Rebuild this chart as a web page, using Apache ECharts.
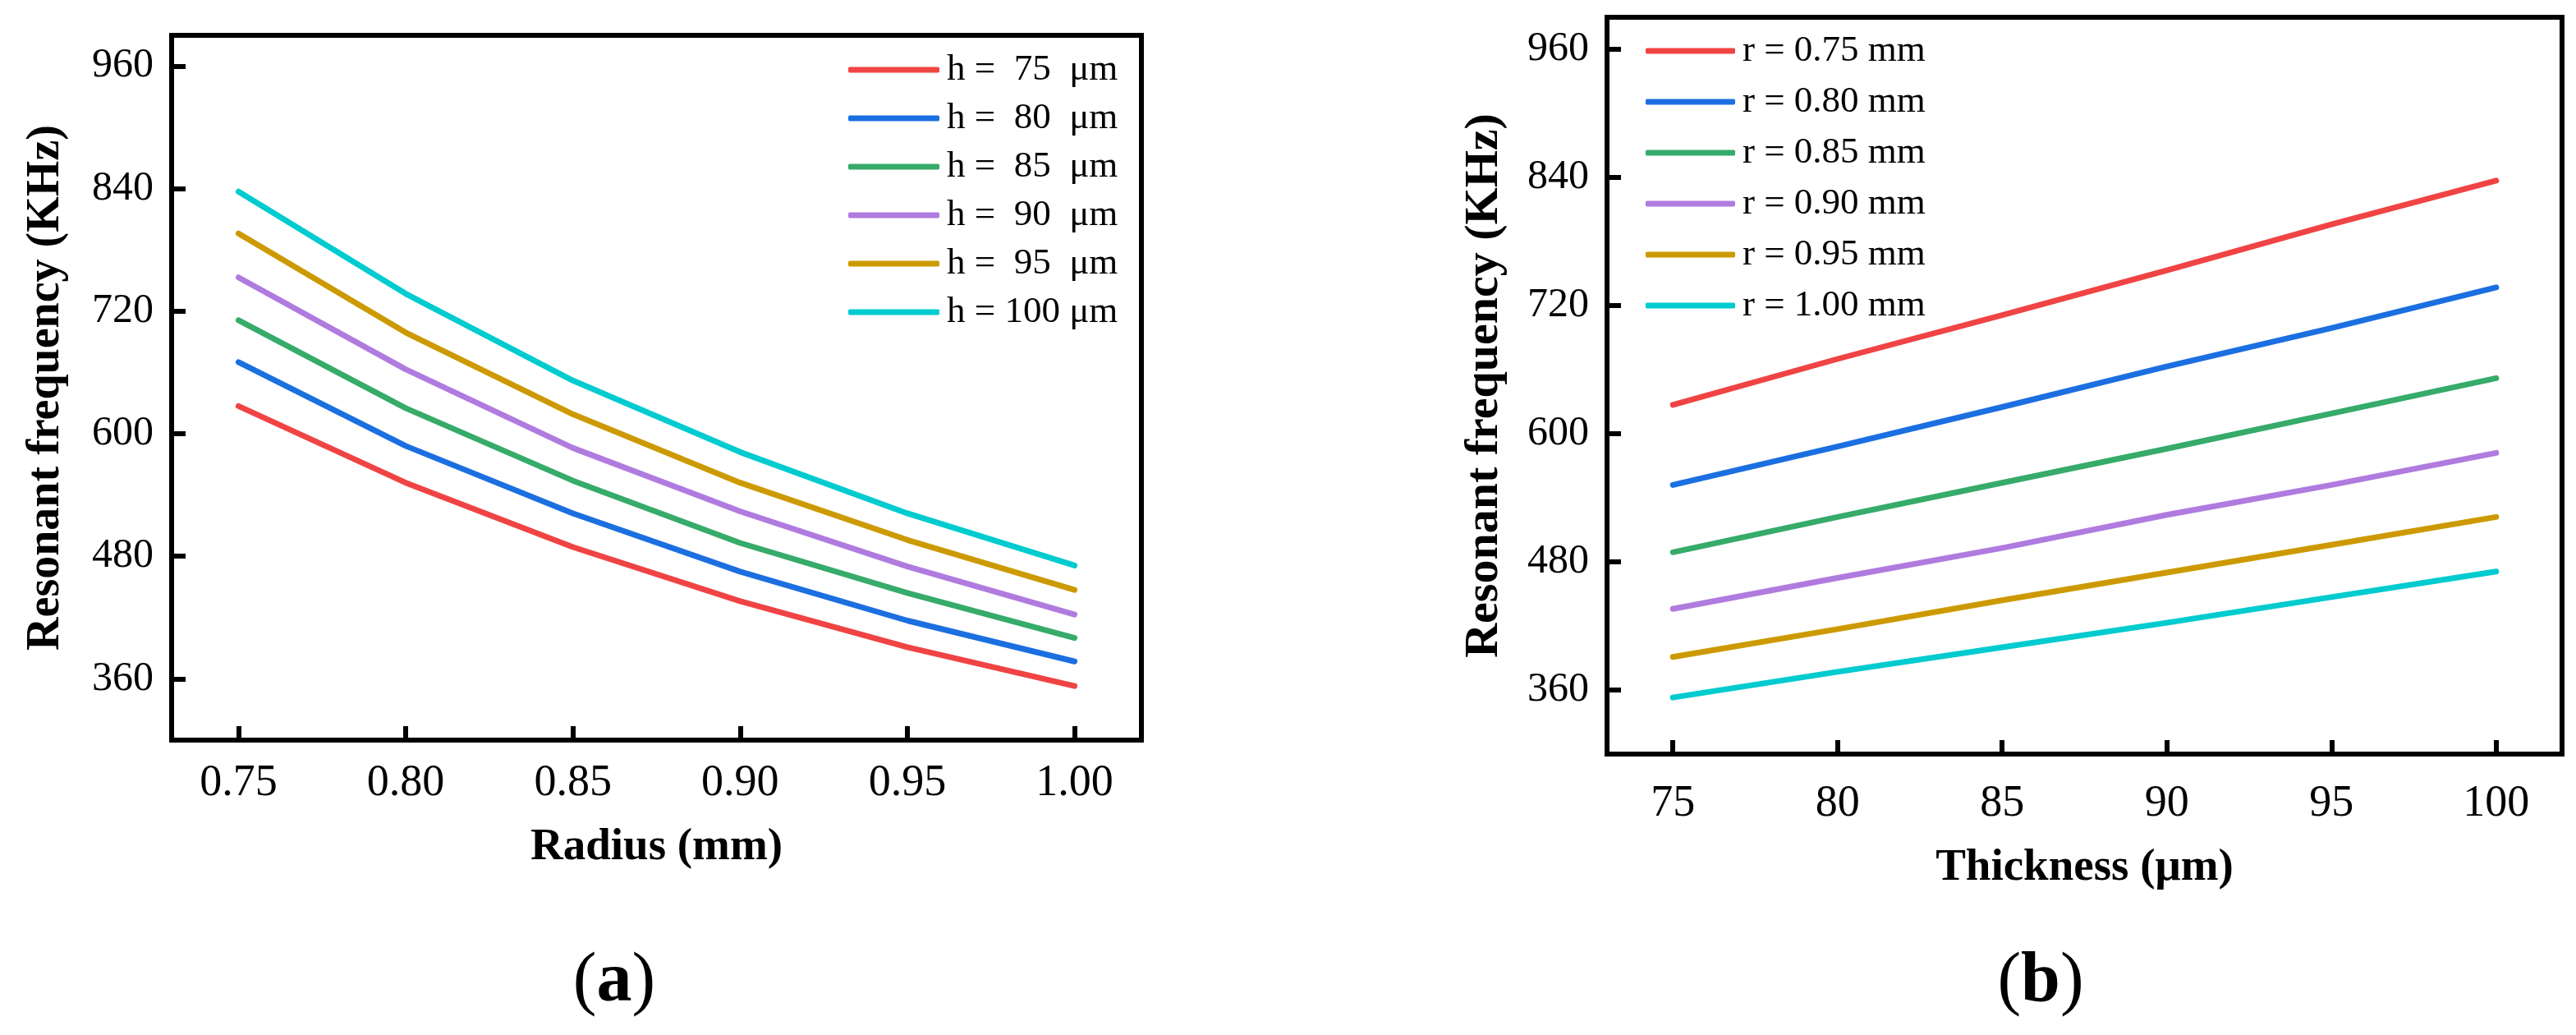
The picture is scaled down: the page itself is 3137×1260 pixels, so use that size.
<!DOCTYPE html>
<html>
<head>
<meta charset="utf-8">
<script src="https://cdn.jsdelivr.net/npm/echarts@6/dist/echarts.min.js"></script>
<style>
  html, body { margin: 0; padding: 0; background: #fff; }
  #main { width: 3137px; height: 1260px; }
</style>
</head>
<body>
<div id="main"></div>
<script>
// radius (mm) and thickness (um)
const radii = [0.75, 0.80, 0.85, 0.90, 0.95, 1.00];
const thickness = [75, 80, 85, 90, 95, 100];
const freqTicks = [360, 480, 600, 720, 840, 960];

// resonant frequency (KHz), one row per thickness, one column per radius
const h75 = [627, 552, 489, 436, 391, 353];
const h80 = [670, 588, 522, 465, 417, 377];
const h85 = [711, 625, 554, 493, 444, 400];
const h90 = [753, 663, 586, 524, 470, 423];
const h95 = [796, 699, 619, 552, 496, 447];
const h100 = [837, 737, 652, 582, 522, 471];

const leftNames = ['h =  75  μm', 'h =  80  μm', 'h =  85  μm', 'h =  90  μm', 'h =  95  μm', 'h = 100 μm'];
const rightNames = ['r = 0.75 mm', 'r = 0.80 mm', 'r = 0.85 mm', 'r = 0.90 mm', 'r = 0.95 mm', 'r = 1.00 mm'];
const colors = ['#f04444', '#1b6fe0', '#36ab6a', '#b07bdf', '#cc9a00', '#00cbcf'];

const rows = [h75, h80, h85, h90, h95, h100];
const font = 'Liberation Serif';

const chart = echarts.init(document.getElementById('main'), null, { renderer: 'canvas' });

function xAxisCommon(extra) {
    return Object.assign({
        type: 'value',
        nameLocation: 'middle',
        nameTextStyle: { fontFamily: font, fontWeight: 'bold', fontSize: 55, color: '#000' },
        axisLine: { show: true, onZero: false, lineStyle: { color: '#000', width: 6 } },
        splitLine: { show: false }
    }, extra);
}

function yAxisCommon(extra) {
    return Object.assign({
        type: 'value',
        min: 300,
        max: 990,
        nameLocation: 'middle',
        nameRotate: 90,
        axisLine: { show: true, onZero: false, lineStyle: { color: '#000', width: 6 } },
        axisTick: { show: true, inside: true, length: 17, customValues: freqTicks, lineStyle: { color: '#000', width: 6 } },
        axisLabel: { fontFamily: font, fontSize: 50, color: '#000', margin: 22, customValues: freqTicks },
        splitLine: { show: false }
    }, extra);
}

const series = [];
// (a): frequency vs radius, one line per thickness
rows.forEach((row, i) => {
    series.push({
        name: leftNames[i],
        type: 'line',
        xAxisIndex: 0,
        yAxisIndex: 0,
        symbol: 'none',
        color: colors[i],
        lineStyle: { width: 7, cap: 'round', join: 'round' },
        data: radii.map((r, j) => [r, row[j]])
    });
});
// (b): frequency vs thickness, one line per radius
radii.forEach((r, j) => {
    series.push({
        name: rightNames[j],
        type: 'line',
        xAxisIndex: 1,
        yAxisIndex: 1,
        symbol: 'none',
        color: colors[j],
        lineStyle: { width: 7, cap: 'round', join: 'round' },
        data: thickness.map((h, i) => [h, rows[i][j]])
    });
});

const panelRich = {
    p: { fontFamily: font, fontSize: 86, fontWeight: 'normal', color: '#000' },
    b: { fontFamily: font, fontSize: 86, fontWeight: 'bold', color: '#000' }
};

const option = {
    backgroundColor: '#fff',
    animation: false,
    title: [
        { text: '{p|(}{b|a}{p|)}', left: 743, top: 1148, textAlign: 'center', textStyle: { fontWeight: 'normal', rich: panelRich } },
        { text: '{p|(}{b|b}{p|)}', left: 2480, top: 1148, textAlign: 'center', textStyle: { fontWeight: 'normal', rich: panelRich } }
    ],
    grid: [
        { left: 209, right: 1747, top: 43, bottom: 359, show: true, borderColor: '#000', borderWidth: 6, containLabel: false },
        { left: 1957, right: 17, top: 21, bottom: 342, show: true, borderColor: '#000', borderWidth: 6, containLabel: false }
    ],
    legend: [
        {
            data: leftNames,
            orient: 'vertical',
            left: 1033, top: 60,
            padding: 0,
            icon: 'roundRect',
            itemWidth: 111, itemHeight: 7, itemGap: 9,
            textStyle: { fontFamily: font, fontSize: 45, color: '#000', lineHeight: 50, padding: [0, 0, 0, 4] }
        },
        {
            data: rightNames,
            orient: 'vertical',
            left: 2004, top: 36,
            padding: 0,
            icon: 'roundRect',
            itemWidth: 109, itemHeight: 7, itemGap: 10,
            textStyle: { fontFamily: font, fontSize: 45, color: '#000', lineHeight: 52, padding: [0, 0, 0, 4] }
        }
    ],
    xAxis: [
        xAxisCommon({
            gridIndex: 0, min: 0.73, max: 1.02,
            name: 'Radius (mm)', nameGap: 103,
            axisTick: { show: true, inside: true, length: 17, customValues: radii, lineStyle: { color: '#000', width: 6 } },
            axisLabel: { fontFamily: font, fontSize: 54, color: '#000', margin: 26, customValues: radii, formatter: v => v.toFixed(2) }
        }),
        xAxisCommon({
            gridIndex: 1, min: 73, max: 102,
            name: 'Thickness (μm)', nameGap: 111,
            axisTick: { show: true, inside: true, length: 17, customValues: thickness, lineStyle: { color: '#000', width: 6 } },
            axisLabel: { fontFamily: font, fontSize: 54, color: '#000', margin: 34, customValues: thickness }
        })
    ],
    yAxis: [
        yAxisCommon({
            gridIndex: 0,
            name: 'Resonant frequency (KHz)', nameGap: 124,
            nameTextStyle: { fontFamily: font, fontWeight: 'bold', fontSize: 56, color: '#000' }
        }),
        yAxisCommon({
            gridIndex: 1,
            name: 'Resonant frequency (KHz)', nameGap: 120,
            nameTextStyle: { fontFamily: font, fontWeight: 'bold', fontSize: 58, color: '#000' }
        })
    ],
    series: series
};

chart.setOption(option);
</script>
</body>
</html>
